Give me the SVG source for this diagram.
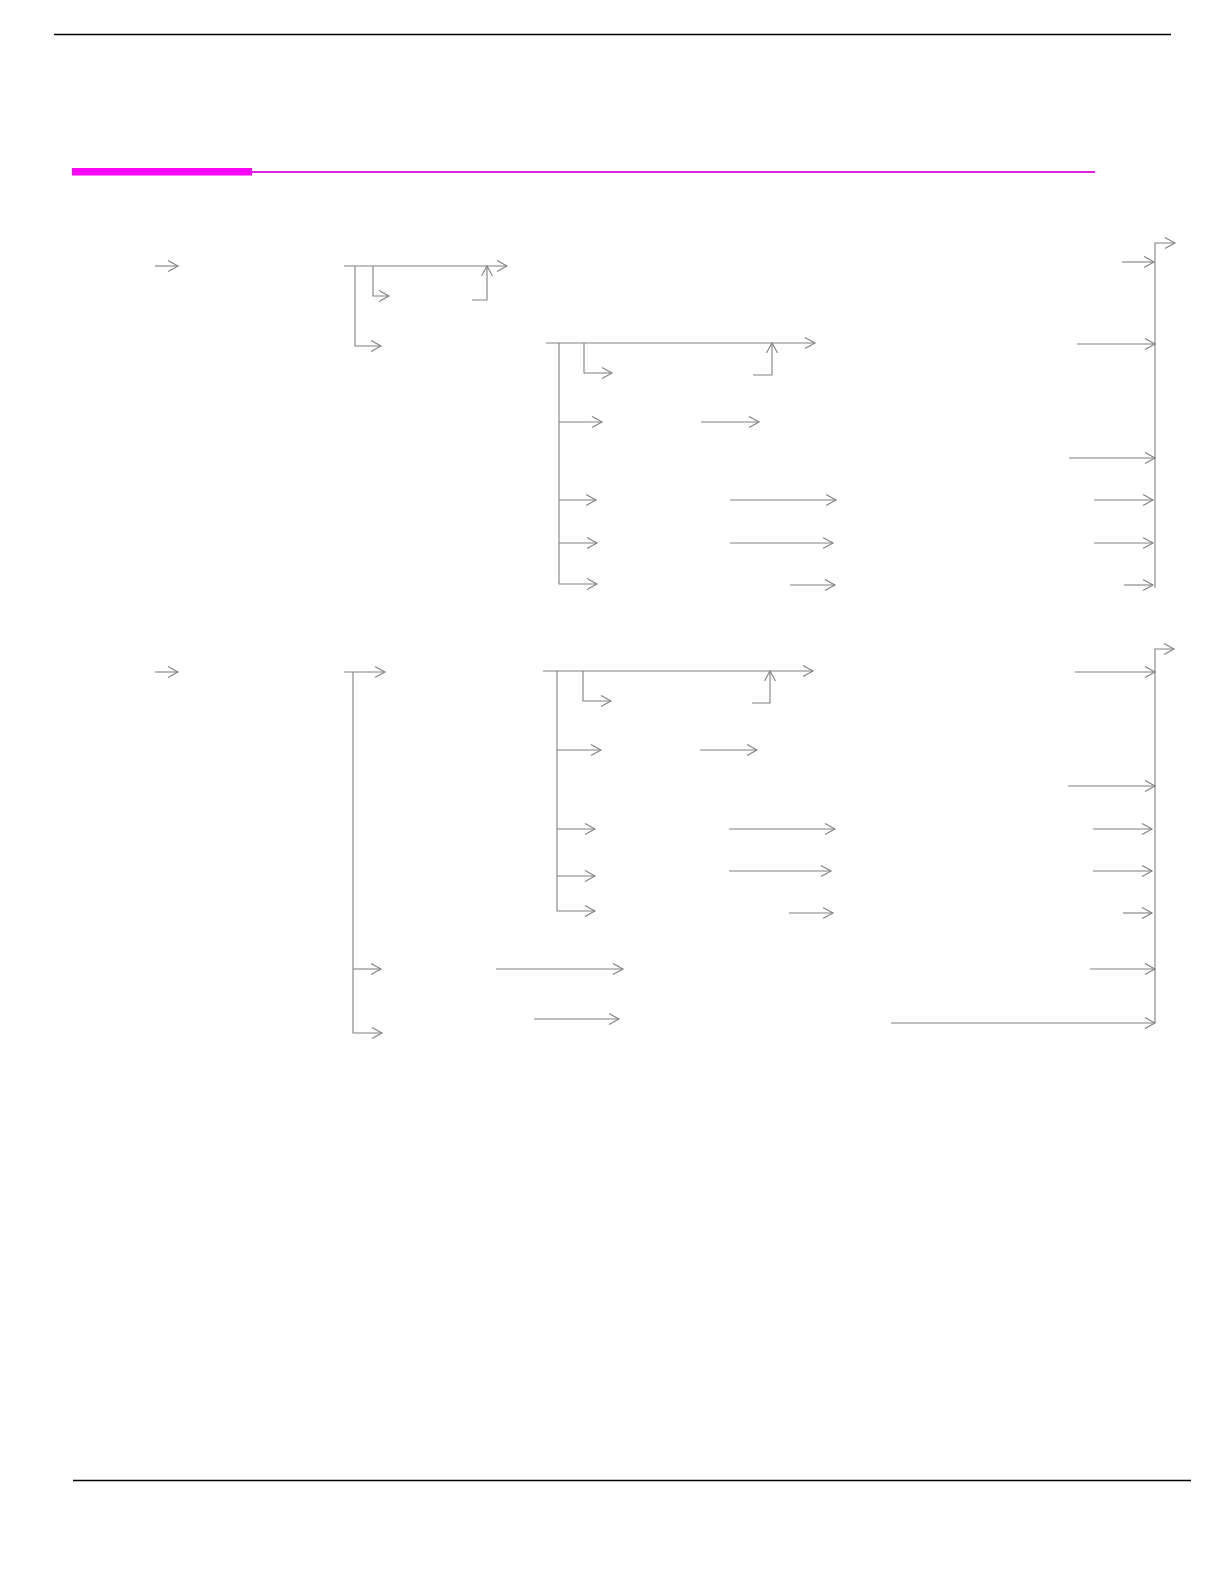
<svg xmlns="http://www.w3.org/2000/svg" width="1224" height="1582" viewBox="0 0 1224 1582">
<style>
.rule{stroke:#000;stroke-width:1.4;fill:none}
.c{stroke:#808080;stroke-width:1.1;fill:none;marker-end:url(#ah)}
.p{stroke:#808080;stroke-width:1.1;fill:none}
</style>
<defs>
<marker id="ah" markerUnits="userSpaceOnUse" markerWidth="14" markerHeight="14" refX="11" refY="6" orient="auto" overflow="visible">
<path d="M1,0.5 L11,6 L1,11.5" fill="none" stroke="#808080" stroke-width="1.1"/>
</marker>
</defs>
<rect width="1224" height="1582" fill="#fff"/>
<g id="header">
<line class="rule" x1="54" y1="34.5" x2="1171" y2="34.5"/>
<rect x="72" y="168" width="180" height="7.5" fill="#ff00ff"/>
<line x1="252" y1="172" x2="1095" y2="172" stroke="#e020e0" stroke-width="2"/>
</g>
<g id="footer">
<line class="rule" x1="73" y1="1480.5" x2="1191" y2="1480.5"/>
</g>
<g id="connectors">
<!-- upper section -->
<path class="c" d="M155,266 H178"/>
<path class="c" d="M344,266 H507"/>
<path class="c" d="M355,266 V346 H381"/>
<path class="c" d="M373,266 V296 H389"/>
<path class="c" d="M472,300 H487 V266"/>
<path class="c" d="M546,343 H815"/>
<path class="c" d="M559,343 V584 H597"/>
<path class="c" d="M559,422 H602"/>
<path class="c" d="M559,500 H596"/>
<path class="c" d="M559,543 H597"/>
<path class="c" d="M584,343 V373 H612"/>
<path class="c" d="M753,375 H772 V343"/>
<path class="c" d="M701,422 H759"/>
<path class="c" d="M730,500 H836"/>
<path class="c" d="M730,543 H833"/>
<path class="c" d="M790,585 H835"/>
<path class="c" d="M1155,588 V243 H1175"/>
<path class="c" d="M1122,262 H1154"/>
<path class="c" d="M1077,344 H1155"/>
<path class="c" d="M1069,458 H1155"/>
<path class="c" d="M1094,500 H1153"/>
<path class="c" d="M1094,543 H1153"/>
<path class="c" d="M1124,585 H1153"/>
<!-- lower section -->
<path class="c" d="M155,672 H178"/>
<path class="c" d="M344,672 H385"/>
<path class="c" d="M353,672 V1033 H382"/>
<path class="c" d="M353,969 H381"/>
<path class="c" d="M543,671 H813"/>
<path class="c" d="M557,671 V911 H595"/>
<path class="c" d="M557,750 H601"/>
<path class="c" d="M557,829 H595"/>
<path class="c" d="M557,876 H595"/>
<path class="c" d="M583,671 V701 H611"/>
<path class="c" d="M752,703 H770 V671"/>
<path class="c" d="M700,750 H757"/>
<path class="c" d="M729,829 H835"/>
<path class="c" d="M729,871 H831"/>
<path class="c" d="M789,913 H833"/>
<path class="c" d="M496,969 H623"/>
<path class="c" d="M534,1019 H619"/>
<path class="c" d="M1155,1023 V649 H1174"/>
<path class="c" d="M1075,672 H1155"/>
<path class="c" d="M1068,786 H1155"/>
<path class="c" d="M1093,829 H1152"/>
<path class="c" d="M1093,871 H1152"/>
<path class="c" d="M1123,913 H1152"/>
<path class="c" d="M1090,969 H1155"/>
<path class="c" d="M891,1023 H1155"/>
</g>
</svg>
